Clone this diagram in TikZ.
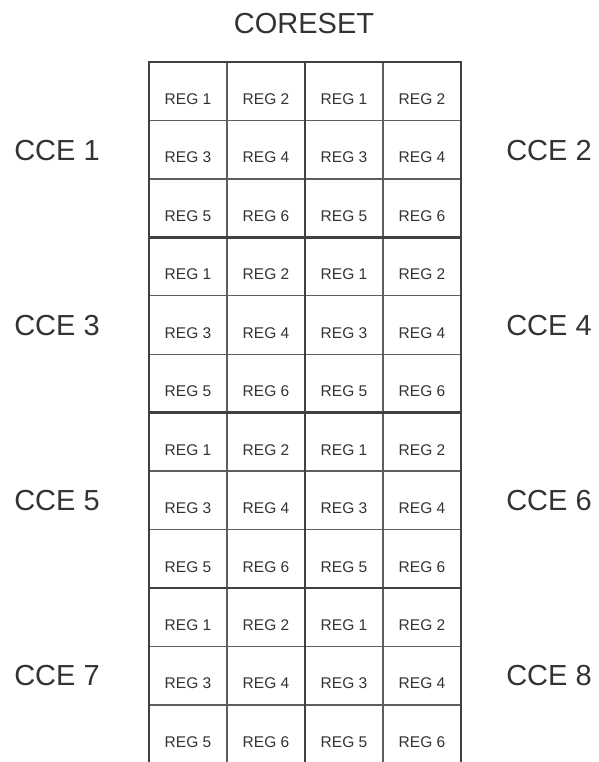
\documentclass[tikz,border=0pt]{standalone}
\usepackage{fontspec}
\setmainfont{Liberation Sans}
\usetikzlibrary{calc}
\definecolor{txt}{HTML}{333333}
\definecolor{thinline}{HTML}{5E5E5E}
\definecolor{thickline}{HTML}{404040}
\begin{document}
\begin{tikzpicture}[x=1pt,y=-1pt,
  cell/.style={draw=thinline, line width=1.4pt, minimum width=78pt, minimum height=58.44pt, inner sep=0pt, outer sep=0pt},
  regtext/.style={text=txt, font=\fontsize{15.5}{16}\selectfont, inner sep=0pt},
  cce/.style={text=txt, font=\fontsize{29}{30}\selectfont, inner sep=0pt},
  cceblock/.style={draw=thickline, line width=2.8pt, minimum width=156pt, minimum height=175.32pt, inner sep=0pt, outer sep=0pt}]
\useasboundingbox (0,0) rectangle (598,762);
\clip (0,0) rectangle (598,762);
\node[cce] (title) at (304,24) {CORESET};
\foreach \b in {0,1,2,3}{
  \foreach \r in {0,1,2}{
    \foreach \c in {0,1,2,3}{
      \pgfmathtruncatemacro{\k}{2*\r+mod(\c,2)+1}
      \pgfmathsetmacro{\cx}{149+78*\c+39}
      \pgfmathsetmacro{\cy}{62+58.44*(3*\b+\r)+29.22}
      \node[cell] (c-\b-\r-\c) at (\cx,\cy) {};
      \node[regtext] (t-\b-\r-\c) at ([yshift=-8pt]c-\b-\r-\c.center) {REG \k};
    }
  }
}
\foreach \b in {0,1,2,3}{
  \node[cceblock] (L-\b) at ($(c-\b-0-0.north west)!0.5!(c-\b-2-1.south east)$) {};
  \node[cceblock] (R-\b) at ($(c-\b-0-2.north west)!0.5!(c-\b-2-3.south east)$) {};
}
\path (57,151) node[cce] (cce1) {CCE 1};
\path (549,151) node[cce] (cce2) {CCE 2};
\path (57,326) node[cce] (cce3) {CCE 3};
\path (549,326) node[cce] (cce4) {CCE 4};
\path (57,501) node[cce] (cce5) {CCE 5};
\path (549,501) node[cce] (cce6) {CCE 6};
\path (57,676) node[cce] (cce7) {CCE 7};
\path (549,676) node[cce] (cce8) {CCE 8};
\end{tikzpicture}
\end{document}
